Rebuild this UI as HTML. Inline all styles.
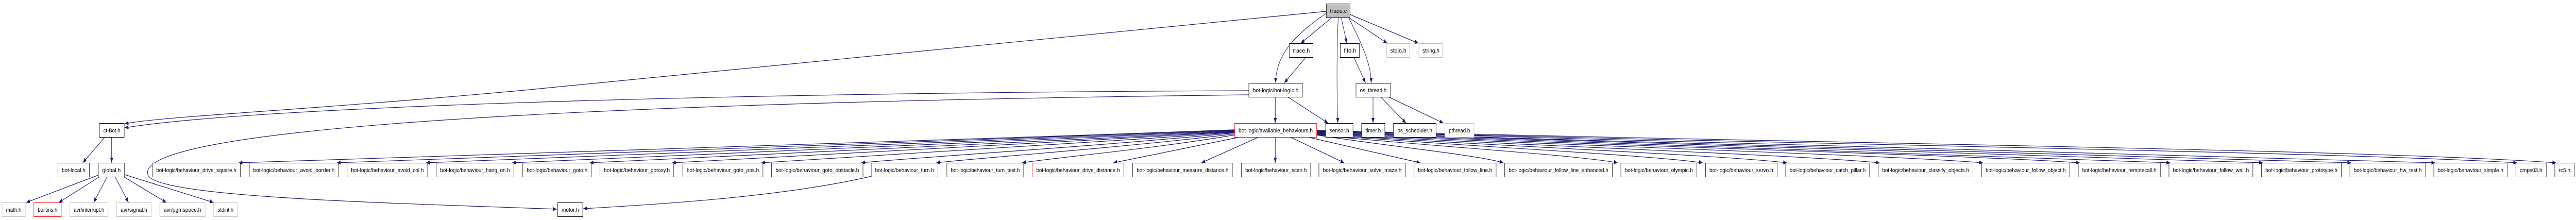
<!DOCTYPE html>
<html><head><meta charset="utf-8"><style>
html,body{margin:0;padding:0;background:#fff;overflow:hidden;width:100%;height:100%;}
svg{display:block;width:100vw;height:100vh;}
text{font-family:"Liberation Sans",sans-serif;font-size:11px;fill:#000;}
.e{fill:none;stroke:#191970;stroke-width:1.2;marker-end:url(#a);}
.n rect{fill:#fff;stroke:#000;stroke-width:1;}
.g rect{fill:#fff;stroke:#bfbfbf;stroke-width:1;}
.r rect{fill:#fff;stroke:#ff0000;stroke-width:1;}
</style></head><body>
<svg viewBox="0 0 6876 427" preserveAspectRatio="none" xmlns="http://www.w3.org/2000/svg">
<defs><marker id="a" markerUnits="userSpaceOnUse" markerWidth="10" markerHeight="8" refX="10" refY="4" orient="auto"><path d="M0,0 L10,4 L0,8 z" fill="#191970"/></marker></defs>

<g>
<path class="e" d="M3555,34 L3472,84"/>
<path class="e" d="M3580,34 L3595,84"/>
<path class="e" d="M3600,34 L3703,84"/>
<path class="e" d="M3603,28 L3786,84"/>
<path class="e" d="M3572,34 C3568,100 3568,180 3571,239"/>
<path class="e" d="M3600,34 C3630,80 3660,120 3660,161"/>
<path class="e" d="M3540,26 C3450,70 3405,110 3405,161"/>
<path class="e" d="M3540,22 L1400,175 C800,215 450,225 333,240"/>
<path class="e" d="M3333,176 C2000,180 700,205 333,248"/>
<path class="e" d="M3333,184 C1500,200 350,250 395,340 C420,385 1100,395 1486,406"/>
<path class="e" d="M2327,342 C2100,380 1800,395 1557,405"/>
<path class="e" d="M3487,110 L3428,161"/>
<path class="e" d="M3404,188 L3404,239"/>
<path class="e" d="M3437,188 L3545,239"/>
<path class="e" d="M3613,110 L3645,161"/>
<path class="e" d="M3665,188 L3665,239"/>
<path class="e" d="M3685,188 L3753,239"/>
<path class="e" d="M3706,188 L3853,239"/>
<path class="e" d="M280,266 L221,316"/>
<path class="e" d="M298,266 L298,316"/>
<path class="e" d="M262,340 L70,393"/>
<path class="e" d="M266,343 L157,393"/>
<path class="e" d="M286,343 L250,393"/>
<path class="e" d="M307,343 L343,393"/>
<path class="e" d="M330,343 L444,393"/>
<path class="e" d="M333,339 L570,393"/>
<path class="e" d="M3295,252 C2232,280 1036,305 637,316"/>
<path class="e" d="M3295,252 C2337,280 1258,305 899,316"/>
<path class="e" d="M3295,253 C2432,280 1461,305 1137,316"/>
<path class="e" d="M3295,254 C2524,280 1656,305 1367,316"/>
<path class="e" d="M3295,255 C2607,282 1832,305 1574,316"/>
<path class="e" d="M3295,256 C2695,282 2019,305 1794,316"/>
<path class="e" d="M3295,257 C2790,284 2221,305 2032,316"/>
<path class="e" d="M3295,258 C2897,286 2448,305 2299,316"/>
<path class="e" d="M3295,260 C2977,288 2618,306 2499,316"/>
<path class="e" d="M3295,262 C3068,290 2813,306 2728,316"/>
<path class="e" d="M3310,266 L2972,316"/>
<path class="e" d="M3360,266 L3207,316"/>
<path class="e" d="M3404,266 L3404,316"/>
<path class="e" d="M3444,266 L3588,316"/>
<path class="e" d="M3490,266 L3791,316"/>
<path class="e" d="M3514,262 C3714,285 3938,300 4013,316"/>
<path class="e" d="M3514,262 C3836,285 4197,300 4318,316"/>
<path class="e" d="M3514,261 C3926,285 4390,300 4545,316"/>
<path class="e" d="M3514,260 C4016,285 4582,300 4770,316"/>
<path class="e" d="M3514,259 C4115,285 4792,300 5017,316"/>
<path class="e" d="M3514,258 C4226,285 5026,300 5293,316"/>
<path class="e" d="M3514,257 C4329,285 5245,300 5551,316"/>
<path class="e" d="M3514,256 C4426,285 5451,300 5793,316"/>
<path class="e" d="M3514,255 C4524,285 5661,300 6040,316"/>
<path class="e" d="M3514,255 C4619,285 5862,300 6276,316"/>
<path class="e" d="M3514,254 C4708,282 6052,300 6500,316"/>
<path class="e" d="M3514,254 C4796,280 6238,295 6719,316"/>
<path class="e" d="M3514,253 C4838,278 6327,290 6823,316"/>
</g>

<g class="n"><rect x="3540.5" y="7.5" width="63" height="27" style="fill:#bfbfbf"/><text x="3550" y="25" textLength="45" lengthAdjust="spacingAndGlyphs">trace.c</text></g>

<g class="n"><rect x="3441.5" y="84.5" width="63" height="27"/><text x="3451" y="102" textLength="45" lengthAdjust="spacingAndGlyphs">trace.h</text></g>
<g class="n"><rect x="3577.5" y="84.5" width="51" height="27"/><text x="3587" y="102" textLength="33" lengthAdjust="spacingAndGlyphs">fifo.h</text></g>
<g class="g"><rect x="3701.5" y="84.5" width="61" height="27"/><text x="3711" y="102" textLength="43" lengthAdjust="spacingAndGlyphs">stdio.h</text></g>
<g class="g"><rect x="3787.5" y="84.5" width="63" height="27"/><text x="3797" y="102" textLength="45" lengthAdjust="spacingAndGlyphs">string.h</text></g>

<g class="n"><rect x="3333.5" y="161.5" width="143" height="27"/><text x="3344" y="179" textLength="122" lengthAdjust="spacingAndGlyphs">bot-logic/bot-logic.h</text></g>
<g class="n"><rect x="3619.5" y="161.5" width="92" height="27"/><text x="3630" y="179" textLength="71" lengthAdjust="spacingAndGlyphs">os_thread.h</text></g>

<g class="n"><rect x="265.5" y="239.5" width="66" height="27"/><text x="276" y="257" textLength="45" lengthAdjust="spacingAndGlyphs">ct-Bot.h</text></g>
<g class="r"><rect x="3295.5" y="239.5" width="219" height="27"/><text x="3306" y="257" textLength="198" lengthAdjust="spacingAndGlyphs">bot-logic/available_behaviours.h</text></g>
<g class="n"><rect x="3538.5" y="239.5" width="73" height="27"/><text x="3549" y="257" textLength="52" lengthAdjust="spacingAndGlyphs">sensor.h</text></g>
<g class="n"><rect x="3634.5" y="239.5" width="62" height="27"/><text x="3645" y="257" textLength="41" lengthAdjust="spacingAndGlyphs">timer.h</text></g>
<g class="n"><rect x="3719.5" y="239.5" width="114" height="27"/><text x="3730" y="257" textLength="93" lengthAdjust="spacingAndGlyphs">os_scheduler.h</text></g>
<g class="g"><rect x="3856.5" y="239.5" width="78" height="27"/><text x="3867" y="257" textLength="57" lengthAdjust="spacingAndGlyphs">pthread.h</text></g>

<g class="n"><rect x="154.5" y="316.5" width="84" height="27"/><text x="165" y="334" textLength="63" lengthAdjust="spacingAndGlyphs">bot-local.h</text></g>
<g class="n"><rect x="262.5" y="316.5" width="70" height="27"/><text x="273" y="334" textLength="49" lengthAdjust="spacingAndGlyphs">global.h</text></g>
<g class="n"><rect x="406.5" y="316.5" width="235" height="27"/><text x="417" y="334" textLength="214" lengthAdjust="spacingAndGlyphs">bot-logic/behaviour_drive_square.h</text></g>
<g class="n"><rect x="665.5" y="316.5" width="238" height="27"/><text x="676" y="334" textLength="217" lengthAdjust="spacingAndGlyphs">bot-logic/behaviour_avoid_border.h</text></g>
<g class="n"><rect x="926.5" y="316.5" width="215" height="27"/><text x="937" y="334" textLength="194" lengthAdjust="spacingAndGlyphs">bot-logic/behaviour_avoid_col.h</text></g>
<g class="n"><rect x="1164.5" y="316.5" width="207" height="27"/><text x="1175" y="334" textLength="186" lengthAdjust="spacingAndGlyphs">bot-logic/behaviour_hang_on.h</text></g>
<g class="n"><rect x="1395.5" y="316.5" width="183" height="27"/><text x="1406" y="334" textLength="162" lengthAdjust="spacingAndGlyphs">bot-logic/behaviour_goto.h</text></g>
<g class="n"><rect x="1601.5" y="316.5" width="197" height="27"/><text x="1612" y="334" textLength="176" lengthAdjust="spacingAndGlyphs">bot-logic/behaviour_gotoxy.h</text></g>
<g class="n"><rect x="1822.5" y="316.5" width="214" height="27"/><text x="1833" y="334" textLength="193" lengthAdjust="spacingAndGlyphs">bot-logic/behaviour_goto_pos.h</text></g>
<g class="n"><rect x="2059.5" y="316.5" width="244" height="27"/><text x="2070" y="334" textLength="223" lengthAdjust="spacingAndGlyphs">bot-logic/behaviour_goto_obstacle.h</text></g>
<g class="n"><rect x="2325.5" y="316.5" width="178" height="27"/><text x="2336" y="334" textLength="157" lengthAdjust="spacingAndGlyphs">bot-logic/behaviour_turn.h</text></g>
<g class="n"><rect x="2527.5" y="316.5" width="205" height="27"/><text x="2538" y="334" textLength="184" lengthAdjust="spacingAndGlyphs">bot-logic/behaviour_turn_test.h</text></g>
<g class="r"><rect x="2755.5" y="316.5" width="244" height="27"/><text x="2766" y="334" textLength="223" lengthAdjust="spacingAndGlyphs">bot-logic/behaviour_drive_distance.h</text></g>
<g class="n"><rect x="3023.5" y="316.5" width="266" height="27"/><text x="3034" y="334" textLength="245" lengthAdjust="spacingAndGlyphs">bot-logic/behaviour_measure_distance.h</text></g>
<g class="n"><rect x="3313.5" y="316.5" width="185" height="27"/><text x="3324" y="334" textLength="164" lengthAdjust="spacingAndGlyphs">bot-logic/behaviour_scan.h</text></g>
<g class="n"><rect x="3520.5" y="316.5" width="231" height="27"/><text x="3531" y="334" textLength="210" lengthAdjust="spacingAndGlyphs">bot-logic/behaviour_solve_maze.h</text></g>
<g class="n"><rect x="3774.5" y="316.5" width="219" height="27"/><text x="3785" y="334" textLength="198" lengthAdjust="spacingAndGlyphs">bot-logic/behaviour_follow_line.h</text></g>
<g class="n"><rect x="4016.5" y="316.5" width="287" height="27"/><text x="4027" y="334" textLength="266" lengthAdjust="spacingAndGlyphs">bot-logic/behaviour_follow_line_enhanced.h</text></g>
<g class="n"><rect x="4326.5" y="316.5" width="203" height="27"/><text x="4337" y="334" textLength="182" lengthAdjust="spacingAndGlyphs">bot-logic/behaviour_olympic.h</text></g>
<g class="n"><rect x="4552.5" y="316.5" width="191" height="27"/><text x="4563" y="334" textLength="170" lengthAdjust="spacingAndGlyphs">bot-logic/behaviour_servo.h</text></g>
<g class="n"><rect x="4766.5" y="316.5" width="224" height="27"/><text x="4777" y="334" textLength="203" lengthAdjust="spacingAndGlyphs">bot-logic/behaviour_catch_pillar.h</text></g>
<g class="n"><rect x="5013.5" y="316.5" width="253" height="27"/><text x="5024" y="334" textLength="232" lengthAdjust="spacingAndGlyphs">bot-logic/behaviour_classify_objects.h</text></g>
<g class="n"><rect x="5289.5" y="316.5" width="235" height="27"/><text x="5300" y="334" textLength="214" lengthAdjust="spacingAndGlyphs">bot-logic/behaviour_follow_object.h</text></g>
<g class="n"><rect x="5547.5" y="316.5" width="219" height="27"/><text x="5558" y="334" textLength="198" lengthAdjust="spacingAndGlyphs">bot-logic/behaviour_remotecall.h</text></g>
<g class="n"><rect x="5789.5" y="316.5" width="224" height="27"/><text x="5800" y="334" textLength="203" lengthAdjust="spacingAndGlyphs">bot-logic/behaviour_follow_wall.h</text></g>
<g class="n"><rect x="6036.5" y="316.5" width="213" height="27"/><text x="6047" y="334" textLength="192" lengthAdjust="spacingAndGlyphs">bot-logic/behaviour_prototype.h</text></g>
<g class="n"><rect x="6272.5" y="316.5" width="202" height="27"/><text x="6283" y="334" textLength="181" lengthAdjust="spacingAndGlyphs">bot-logic/behaviour_hw_test.h</text></g>
<g class="n"><rect x="6496.5" y="316.5" width="196" height="27"/><text x="6507" y="334" textLength="175" lengthAdjust="spacingAndGlyphs">bot-logic/behaviour_simple.h</text></g>
<g class="n"><rect x="6715.5" y="316.5" width="81" height="27"/><text x="6726" y="334" textLength="60" lengthAdjust="spacingAndGlyphs">cmps03.h</text></g>
<g class="n"><rect x="6819.5" y="316.5" width="52" height="27"/><text x="6830" y="334" textLength="31" lengthAdjust="spacingAndGlyphs">rc5.h</text></g>

<g class="g"><rect x="5.5" y="393.5" width="62" height="27"/><text x="16" y="411" textLength="41" lengthAdjust="spacingAndGlyphs">math.h</text></g>
<g class="r"><rect x="90.5" y="393.5" width="73" height="27"/><text x="101" y="411" textLength="52" lengthAdjust="spacingAndGlyphs">builtins.h</text></g>
<g class="g"><rect x="186.5" y="393.5" width="102" height="27"/><text x="197" y="411" textLength="81" lengthAdjust="spacingAndGlyphs">avr/interrupt.h</text></g>
<g class="g"><rect x="311.5" y="393.5" width="92" height="27"/><text x="322" y="411" textLength="71" lengthAdjust="spacingAndGlyphs">avr/signal.h</text></g>
<g class="g"><rect x="426.5" y="393.5" width="121" height="27"/><text x="437" y="411" textLength="100" lengthAdjust="spacingAndGlyphs">avr/pgmspace.h</text></g>
<g class="g"><rect x="570.5" y="393.5" width="63" height="27"/><text x="581" y="411" textLength="42" lengthAdjust="spacingAndGlyphs">stdint.h</text></g>
<g class="n"><rect x="1488.5" y="393.5" width="67" height="27"/><text x="1499" y="411" textLength="46" lengthAdjust="spacingAndGlyphs">motor.h</text></g>
</svg>
</body></html>
